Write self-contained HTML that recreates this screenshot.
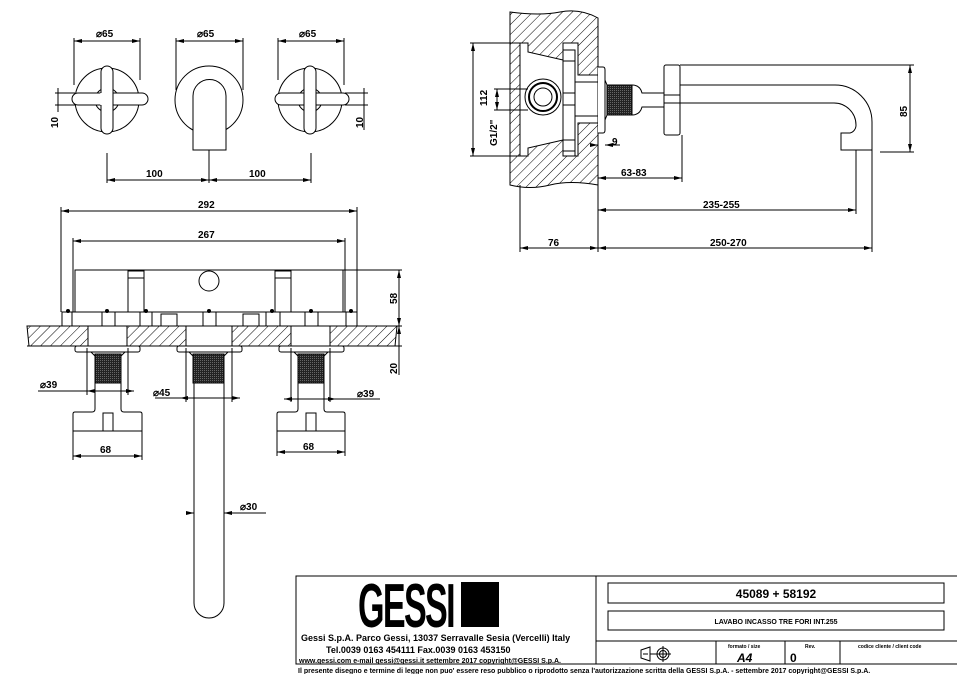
<!DOCTYPE html>
<html><head><meta charset="utf-8"><style>
html,body{margin:0;padding:0;background:#fff;}
svg{display:block;}
text{font-family:"Liberation Sans",sans-serif;font-weight:bold;fill:#000;}
</style></head><body>
<svg width="957" height="674" viewBox="0 0 957 674" xmlns="http://www.w3.org/2000/svg">
<defs>
<pattern id="h" patternUnits="userSpaceOnUse" width="7" height="7" patternTransform="rotate(45)">
<rect width="7" height="7" fill="#fff"/><line x1="0" y1="0" x2="0" y2="7" stroke="#000" stroke-width="1"/>
</pattern>
<pattern id="k" patternUnits="userSpaceOnUse" width="2" height="2">
<rect width="2" height="2" fill="#222"/><rect width="1" height="1" fill="#666"/>
</pattern>
<marker id="a" markerWidth="8" markerHeight="4" refX="8" refY="2" orient="auto-start-reverse" markerUnits="userSpaceOnUse"><path d="M0,0 L8,2 L0,4z" fill="#000"/></marker>
</defs>
<g stroke="#000" stroke-width="1" fill="none">
<!-- TOP VIEW -->
<circle cx="107" cy="100" r="32"/>
<circle cx="107" cy="100" r="12"/>
<path d="M78,93 H142 A6,6 0 0 1 142,105 H78 A6,6 0 0 1 78,93z" fill="#fff"/>
<path d="M101,72 A6,6 0 0 1 113,72 V128 A6,6 0 0 1 101,128z" fill="#fff"/>
<line x1="101" y1="93" x2="101" y2="105" stroke="#fff" stroke-width="1.5"/>
<circle cx="209" cy="100" r="34"/>
<path d="M193,150 V96 A16,16 0 0 1 226,96 V150z" fill="#fff"/>
<circle cx="310" cy="100" r="32"/>
<circle cx="310" cy="100" r="12"/>
<path d="M281,93 H343 A6,6 0 0 1 343,105 H281 A6,6 0 0 1 281,93z" fill="#fff"/>
<path d="M304,72 A6,6 0 0 1 316,72 V128 A6,6 0 0 1 304,128z" fill="#fff"/>
<line x1="74" y1="38" x2="74" y2="85"/><line x1="140" y1="38" x2="140" y2="80"/>
<line x1="74" y1="41" x2="140" y2="41" marker-start="url(#a)" marker-end="url(#a)"/>
<line x1="176" y1="38" x2="176" y2="90"/><line x1="243" y1="38" x2="243" y2="90"/>
<line x1="176" y1="41" x2="243" y2="41" marker-start="url(#a)" marker-end="url(#a)"/>
<line x1="278" y1="38" x2="278" y2="80"/><line x1="344" y1="38" x2="344" y2="85"/>
<line x1="278" y1="41" x2="344" y2="41" marker-start="url(#a)" marker-end="url(#a)"/>
<line x1="55" y1="93" x2="75" y2="93"/><line x1="55" y1="105" x2="75" y2="105"/>
<line x1="58" y1="88" x2="58" y2="112"/>
<line x1="345" y1="93" x2="368" y2="93"/><line x1="345" y1="105" x2="368" y2="105"/>
<line x1="364" y1="88" x2="364" y2="130"/>
<line x1="107" y1="153" x2="107" y2="183"/><line x1="209" y1="150" x2="209" y2="183"/><line x1="311" y1="153" x2="311" y2="183"/>
<line x1="107" y1="180" x2="209" y2="180" marker-start="url(#a)" marker-end="url(#a)"/>
<line x1="209" y1="180" x2="311" y2="180" marker-start="url(#a)" marker-end="url(#a)"/>

<!-- FRONT VIEW -->
<line x1="61" y1="207" x2="61" y2="312"/><line x1="357" y1="207" x2="357" y2="312"/>
<line x1="61" y1="211" x2="357" y2="211" marker-start="url(#a)" marker-end="url(#a)"/>
<line x1="73" y1="238" x2="73" y2="312"/><line x1="345" y1="238" x2="345" y2="312"/>
<line x1="73" y1="241" x2="345" y2="241" marker-start="url(#a)" marker-end="url(#a)"/>
<rect x="75" y="270" width="268" height="42"/>
<rect x="128" y="271" width="16" height="41"/><line x1="128" y1="278" x2="144" y2="278"/>
<rect x="275" y="271" width="16" height="41"/><line x1="275" y1="278" x2="291" y2="278"/>
<circle cx="209" cy="281" r="10"/>
<rect x="62" y="312" width="295" height="14"/>
<g>
<line x1="72" y1="312" x2="72" y2="326"/><line x1="102" y1="312" x2="102" y2="326"/><line x1="115" y1="312" x2="115" y2="326"/><line x1="140" y1="312" x2="140" y2="326"/><line x1="152" y1="312" x2="152" y2="326"/>
<rect x="161" y="314" width="16" height="12"/><rect x="243" y="314" width="16" height="12"/>
<line x1="203" y1="312" x2="203" y2="326"/><line x1="216" y1="312" x2="216" y2="326"/>
<line x1="266" y1="312" x2="266" y2="326"/><line x1="280" y1="312" x2="280" y2="326"/><line x1="305" y1="312" x2="305" y2="326"/><line x1="318" y1="312" x2="318" y2="326"/><line x1="346" y1="312" x2="346" y2="326"/>
</g>
<g fill="#000" stroke="none"><circle cx="68" cy="311" r="2"/><circle cx="107" cy="311" r="2"/><circle cx="146" cy="311" r="2"/><circle cx="209" cy="311" r="2"/><circle cx="272" cy="311" r="2"/><circle cx="311" cy="311" r="2"/><circle cx="351" cy="311" r="2"/></g>
<path d="M27,326 H88 V346 H29z" fill="url(#h)"/>
<path d="M127,326 H186 V346 H127z" fill="url(#h)"/>
<path d="M232,326 H291 V346 H232z" fill="url(#h)"/>
<path d="M330,326 H397 L395,346 H330z" fill="url(#h)"/>
<line x1="27" y1="346" x2="397" y2="346"/>
<line x1="343" y1="270" x2="402" y2="270"/><line x1="357" y1="326" x2="402" y2="326"/><line x1="397" y1="346" x2="402" y2="346"/>
<line x1="399" y1="270" x2="399" y2="326" marker-start="url(#a)" marker-end="url(#a)"/>
<line x1="399" y1="326" x2="399" y2="346" marker-start="url(#a)"/>
<line x1="399" y1="346" x2="399" y2="375"/>
<rect x="75" y="346" width="65" height="6" rx="2"/><rect x="177" y="346" width="65" height="6" rx="2"/><rect x="279" y="346" width="65" height="6" rx="2"/>
<rect x="95" y="354" width="26" height="29" fill="url(#k)"/>
<rect x="193" y="354" width="31" height="29" fill="url(#k)"/>
<rect x="298" y="354" width="26" height="29" fill="url(#k)"/>
<path d="M91,352 L95,356 M125,352 L121,356 M189,352 L193,356 M228,352 L224,356 M294,352 L298,356 M328,352 L324,356"/>
<path d="M95,383 V409 Q95,412 92,412 H75 Q73,412 73,414 V431 H142 V414 Q142,412 140,412 H124 Q121,412 121,409 V383"/>
<rect x="103" y="413" width="10" height="18"/>
<path d="M298,383 V409 Q298,412 295,412 H279 Q277,412 277,414 V431 H345 V414 Q345,412 343,412 H327 Q324,412 324,409 V383"/>
<rect x="306" y="413" width="10" height="18"/>
<path d="M194,383 V603 A15,15 0 0 0 224,603 V383"/>
<line x1="87" y1="348" x2="87" y2="395"/><line x1="128" y1="348" x2="128" y2="395"/>
<line x1="38" y1="391" x2="87" y2="391"/><line x1="87" y1="391" x2="134" y2="391" marker-start="url(#a)" marker-end="url(#a)"/>
<line x1="186" y1="348" x2="186" y2="402"/><line x1="232" y1="348" x2="232" y2="402"/>
<line x1="155" y1="398" x2="186" y2="398"/><line x1="180" y1="398" x2="240" y2="398" marker-start="url(#a)" marker-end="url(#a)"/>
<line x1="291" y1="348" x2="291" y2="402"/><line x1="330" y1="348" x2="330" y2="402"/>
<line x1="284" y1="399" x2="336" y2="399" marker-start="url(#a)" marker-end="url(#a)"/><line x1="330" y1="399" x2="380" y2="399"/>
<line x1="73" y1="431" x2="73" y2="460"/><line x1="142" y1="431" x2="142" y2="460"/>
<line x1="73" y1="456" x2="142" y2="456" marker-start="url(#a)" marker-end="url(#a)"/>
<line x1="277" y1="431" x2="277" y2="456"/><line x1="345" y1="431" x2="345" y2="456"/>
<line x1="277" y1="452" x2="345" y2="452" marker-start="url(#a)" marker-end="url(#a)"/>
<line x1="186" y1="513" x2="194" y2="513" marker-end="url(#a)"/><line x1="224" y1="513" x2="266" y2="513" marker-start="url(#a)"/>

<!-- SIDE VIEW -->
<path d="M510,12 Q540,16 560,12 Q580,8 598,18 V185 Q570,180 550,185 Q530,190 510,185z" fill="url(#h)"/>
<path d="M520,43 H528 V52 L563,60 V43 H578 V75 H598 V123 H578 V156 H563 V140 L528,148 V156 H520z" fill="#fff"/>
<rect x="563" y="50" width="12" height="106" fill="#fff"/>
<rect x="563" y="50" width="12" height="11" fill="#fff"/><rect x="563" y="93" width="12" height="12" fill="#fff"/><rect x="563" y="140" width="12" height="11" fill="#fff"/>
<circle cx="543" cy="97" r="18"/><circle cx="543" cy="97" r="14" stroke-width="2"/><circle cx="543" cy="97" r="9"/>
<line x1="575" y1="82" x2="598" y2="82"/><line x1="575" y1="116" x2="598" y2="116"/>
<path d="M598,67 H603 Q605,67 605,70 V130 Q605,133 603,133 H598" fill="#fff"/>
<rect x="607" y="85" width="25" height="30" fill="url(#k)"/>
<path d="M605,80 L607,85 M605,120 L607,115"/>
<path d="M632,85 Q640,85 642,93 H664 M632,115 Q640,115 642,107 H664"/>
<rect x="664" y="65" width="16" height="70" rx="2"/>
<line x1="664" y1="95" x2="680" y2="95"/><line x1="664" y1="103" x2="680" y2="103"/>
<path d="M680,85 H835 A37,37 0 0 1 872,122 V150 H841 V133 H850 A8,8 0 0 0 856,125 A22,22 0 0 0 834,103 H680"/>
<line x1="680" y1="65" x2="914" y2="65"/><line x1="880" y1="152" x2="914" y2="152"/>
<line x1="910" y1="65" x2="910" y2="152" marker-start="url(#a)" marker-end="url(#a)"/>
<line x1="470" y1="43" x2="528" y2="43"/><line x1="470" y1="156" x2="528" y2="156"/>
<line x1="473" y1="43" x2="473" y2="156" marker-start="url(#a)" marker-end="url(#a)"/>
<line x1="494" y1="89" x2="528" y2="89"/><line x1="494" y1="110" x2="528" y2="110"/>
<line x1="497" y1="89" x2="497" y2="110" marker-start="url(#a)" marker-end="url(#a)"/>
<line x1="590" y1="145" x2="598" y2="145" marker-end="url(#a)"/><line x1="605" y1="145" x2="620" y2="145" marker-start="url(#a)"/>
<line x1="520" y1="185" x2="520" y2="252"/><line x1="598" y1="185" x2="598" y2="252"/>
<line x1="682" y1="135" x2="682" y2="182"/><line x1="856" y1="150" x2="856" y2="214"/><line x1="872" y1="150" x2="872" y2="252"/>
<line x1="598" y1="178" x2="682" y2="178" marker-start="url(#a)" marker-end="url(#a)"/>
<line x1="598" y1="210" x2="856" y2="210" marker-start="url(#a)" marker-end="url(#a)"/>
<line x1="520" y1="248" x2="598" y2="248" marker-start="url(#a)" marker-end="url(#a)"/>
<line x1="598" y1="248" x2="872" y2="248" marker-start="url(#a)" marker-end="url(#a)"/>

<!-- TITLE BLOCK -->
<rect x="296" y="576" width="670" height="88"/>
<line x1="596" y1="576" x2="596" y2="664"/>
<rect x="608" y="583" width="336" height="20"/>
<rect x="608" y="611" width="336" height="19"/>
<line x1="596" y1="641" x2="957" y2="641"/>
<line x1="716" y1="641" x2="716" y2="664"/><line x1="785" y1="641" x2="785" y2="664"/><line x1="840" y1="641" x2="840" y2="664"/>
<line x1="296" y1="664" x2="957" y2="664"/>
<path d="M641,650 L650,647 V661 L641,658z M643,654 H648 M650,654 H656"/>
<circle cx="663" cy="654" r="6"/><circle cx="663" cy="654" r="3.5"/><line x1="655" y1="654" x2="671" y2="654"/><line x1="663" y1="646" x2="663" y2="662"/>
</g>
<rect x="461" y="582" width="38" height="45" fill="#000"/>
<text transform="translate(358,627) scale(0.55,1)" font-size="62" style="letter-spacing:-3px">GESSI</text>

<g font-size="10">
<text x="96" y="37">⌀65</text><text x="197" y="37">⌀65</text><text x="299" y="37">⌀65</text>
<text x="146" y="177">100</text><text x="249" y="177">100</text>
<text transform="translate(58,128) rotate(-90)">10</text>
<text transform="translate(363,128) rotate(-90)">10</text>
<text x="198" y="208">292</text><text x="198" y="238">267</text>
<text transform="translate(397,304) rotate(-90)">58</text>
<text transform="translate(397,374) rotate(-90)">20</text>
<text x="40" y="388">⌀39</text><text x="153" y="396">⌀45</text><text x="357" y="397">⌀39</text>
<text x="100" y="453">68</text><text x="303" y="450">68</text>
<text x="240" y="510">⌀30</text>
<text transform="translate(487,106) rotate(-90)">112</text>
<text transform="translate(497,146) rotate(-90)">G1/2"</text>
<text x="612" y="145">9</text>
<text transform="translate(907,117) rotate(-90)">85</text>
<text x="621" y="176">63-83</text><text x="703" y="208">235-255</text>
<text x="548" y="246">76</text><text x="710" y="246">250-270</text>
</g>
<text x="301" y="641" font-size="9">Gessi S.p.A. Parco Gessi, 13037 Serravalle Sesia (Vercelli) Italy</text>
<text x="326" y="653" font-size="9">Tel.0039 0163 454111 Fax.0039 0163 453150</text>
<text x="299" y="663" font-size="7">www.gessi.com e-mail gessi@gessi.it settembre 2017 copyright@GESSI S.p.A.</text>
<text x="776" y="598" font-size="12" text-anchor="middle">45089 + 58192</text>
<text x="776" y="624" font-size="7" text-anchor="middle">LAVABO INCASSO TRE FORI INT.255</text>
<text x="728" y="648" font-size="5">formato / size</text>
<text x="737" y="662" font-size="12" font-style="italic">A4</text>
<text x="805" y="648" font-size="5">Rev.</text>
<text x="790" y="662" font-size="12">0</text>
<text x="858" y="648" font-size="5">codice cliente / client code</text>
<text x="298" y="673" font-size="7">Il presente disegno e termine di legge non puo' essere reso pubblico o riprodotto senza l'autorizzazione scritta della GESSI S.p.A. - settembre 2017 copyright@GESSI S.p.A.</text>
</svg>
</body></html>
